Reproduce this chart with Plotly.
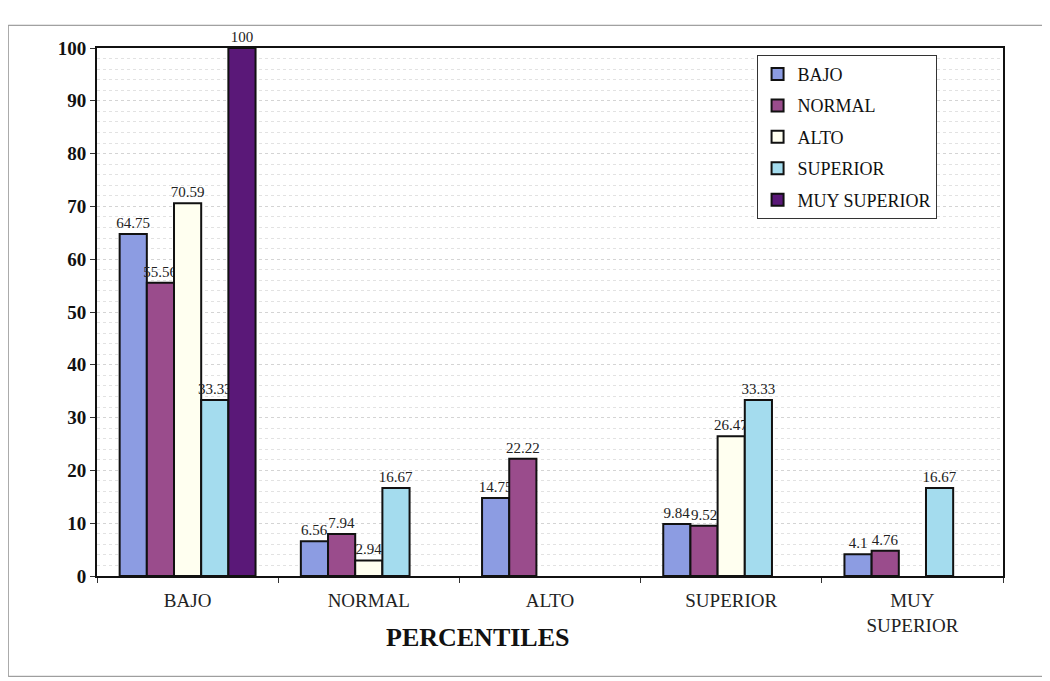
import plotly.graph_objects as go

categories = ["BAJO", "NORMAL", "ALTO", "SUPERIOR", "MUY<br>SUPERIOR"]
series_names = ["BAJO", "NORMAL", "ALTO", "SUPERIOR", "MUY SUPERIOR"]
bajo = [64.75, 6.56, 14.75, 9.84, 4.1]
normal = [55.56, 7.94, 22.22, 9.52, 4.76]
alto = [70.59, 2.94, None, 26.47, None]
superior = [33.33, 16.67, None, 33.33, 16.67]
muy_superior = [100, None, None, None, None]
y_ticks = list(range(0, 101, 10))

series_values = [bajo, normal, alto, superior, muy_superior]
colors = ["#8c9ce2", "#9a4c8c", "#fffff0", "#a4dcee", "#5a1878"]

SERIF = "Liberation Serif"

fig = go.Figure()
for i, (name, vals, col) in enumerate(zip(series_names, series_values, colors)):
    fig.add_trace(go.Bar(
        x=categories, y=vals, name=name,
        marker=dict(color=col, line=dict(color="#111111", width=2)),
        text=[("" if v is None else f"{v:g}") for v in vals],
        textposition="outside", textangle=0, constraintext="none",
        cliponaxis=False,
        textfont=dict(family=SERIF, size=15, color="#222222"),
        legendgroup=name,
    ))

fig.update_layout(
    width=1050, height=681,
    margin=dict(l=89, r=55, t=40, b=113),
    barmode="group", bargap=0.25, bargroupgap=0,
    paper_bgcolor="white", plot_bgcolor="white",
    font=dict(family=SERIF, color="#111111"),
    showlegend=True,
    legend=dict(
        x=0.728, y=0.987, xanchor="left", yanchor="top",
        bgcolor="white", bordercolor="#333333", borderwidth=1,
        font=dict(family=SERIF, size=18, color="#111111"),
        traceorder="grouped", tracegroupgap=5, itemwidth=30,
    ),
    xaxis=dict(
        showline=True, linecolor="#111111", linewidth=2, mirror=True,
        ticks="outside", tickson="boundaries", ticklen=5, tickcolor="#333333",
        tickfont=dict(family=SERIF, size=19, color="#222222"),
        ticklabelstandoff=6,
        showgrid=False,
    ),
    yaxis=dict(
        range=[0, 100], tickvals=y_ticks,
        showline=True, linecolor="#111111", linewidth=2, mirror=True,
        ticks="outside", ticklen=5, tickcolor="#333333",
        tickfont=dict(family=SERIF, size=19, color="#111111", weight="bold"),
        showgrid=True, gridcolor="#d4d4d4", griddash="dot", gridwidth=1,
        minor=dict(dtick=2, showgrid=True, gridcolor="#e2e2e2", griddash="dot"),
        zeroline=False,
    ),
    annotations=[dict(
        text="<b>PERCENTILES</b>", x=0.42, y=-0.085, xref="paper", yref="paper",
        xanchor="center", yanchor="top", showarrow=False,
        font=dict(family=SERIF, size=26, color="#111111"),
    )],
    shapes=[dict(
        type="rect", xref="paper", yref="paper",
        x0=-0.098, x1=1.046, y0=-0.19, y1=1.043,
        line=dict(color="#888888", width=1), fillcolor="rgba(0,0,0,0)", layer="below",
    )],
)

fig.write_html("out.html")
